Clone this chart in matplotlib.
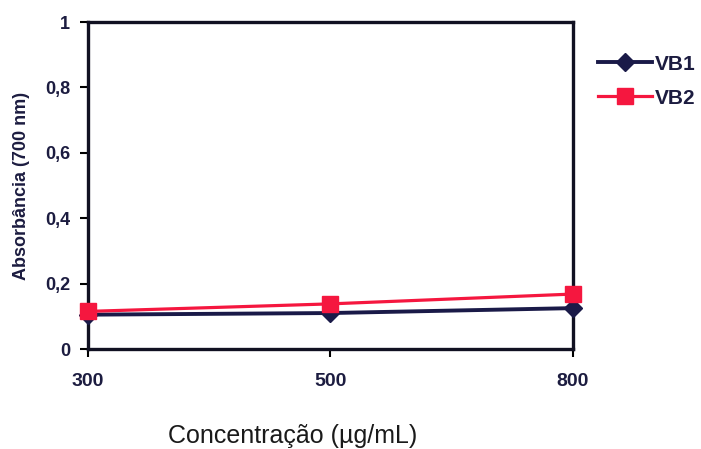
import matplotlib
matplotlib.use("Agg")
import matplotlib.pyplot as plt

plt.rcParams['font.family'] = ['Liberation Sans', 'DejaVu Sans']

categories = ["300", "500", "800"]
vb1 = [0.105, 0.110, 0.125]
vb2 = [0.115, 0.138, 0.168]
yticks = [0, 0.2, 0.4, 0.6, 0.8, 1]
ytick_labels = ["0", "0,2", "0,4", "0,6", "0,8", "1"]

fig = plt.figure(figsize=(7.01, 4.49), dpi=100)
ax = fig.add_axes([0.1255, 0.2227, 0.817 - 0.1255, 0.951 - 0.2227])

x = list(range(len(categories)))
ax.plot(x, vb1, color='#1a1a48', lw=2.8, marker='D', markersize=9, label='VB1', zorder=3, clip_on=False)
ax.plot(x, vb2, color='#f5173f', lw=2.3, marker='s', markersize=12, label='VB2', zorder=4, clip_on=False)

ax.set_xlim(0, 2)
ax.set_ylim(0, 1)
ax.set_xticks(x)
ax.set_xticklabels(categories, fontsize=14, fontweight='bold', color='#1c1c40')
ax.set_yticks(yticks)
ax.set_yticklabels(ytick_labels, fontsize=13, fontweight='bold', color='#1c1c40')
ax.tick_params(axis='x', direction='out', length=6, width=1.5, pad=11)
ax.tick_params(axis='y', direction='out', length=6, width=1.5, pad=7)
for s in ax.spines.values():
    s.set_linewidth(2.4)
    s.set_color('#111122')

ax.set_xlabel("Concentração (µg/mL)", fontsize=18, color='#1a1a1a')
ax.xaxis.set_label_coords(0.423, -0.228)
ax.set_ylabel("Absorbância (700 nm)", fontsize=13, fontweight='bold', color='#1c1c40')
ax.yaxis.set_label_coords(-0.119, 0.5)

leg = ax.legend(loc='upper left', bbox_to_anchor=(1.0515, 0.90), frameon=False,
                prop={'weight': 'bold', 'size': 15}, handlelength=2.6,
                labelspacing=0.72, handletextpad=0.15, borderpad=0, borderaxespad=0,
                labelcolor='#1c1c40')

fig.savefig("out.png", dpi=100)
